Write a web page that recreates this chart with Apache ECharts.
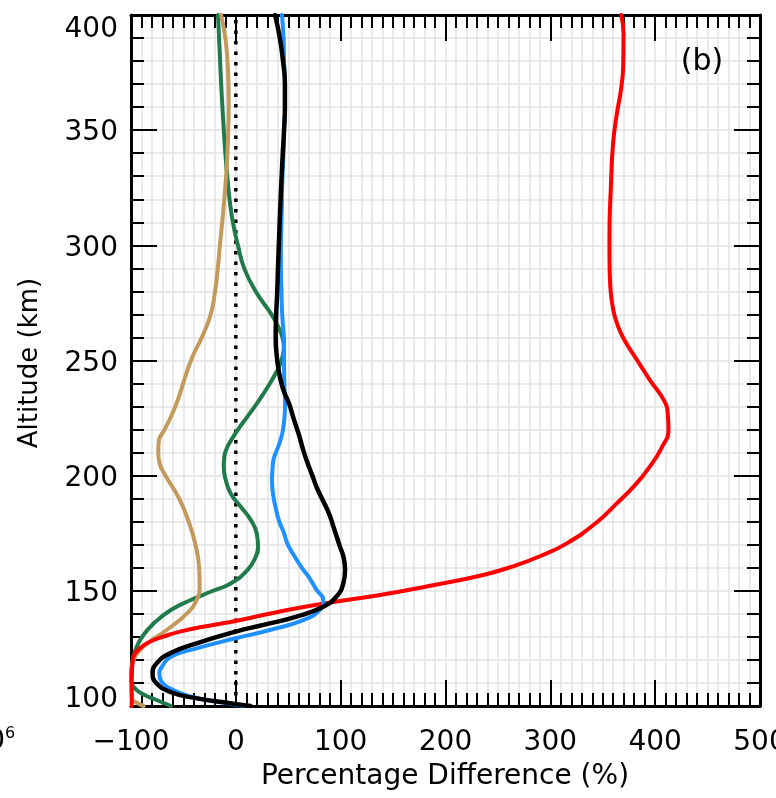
<!DOCTYPE html>
<html>
<head>
<meta charset="utf-8">
<script src="https://cdn.jsdelivr.net/npm/echarts@6/dist/echarts.min.js"></script>
<style>
html,body{margin:0;padding:0;background:#fff;}
#c{width:776px;height:798px;}
</style>
</head>
<body>
<div id="c"></div>
<script>
// ---- data (altitude in km, value in %) ----
const xTicks = [-100, 0, 100, 200, 300, 400, 500];
const yTicks = [100, 150, 200, 250, 300, 350, 400];

const redAlt = [100, 110, 116, 119, 121.4, 125, 127.9, 130.1, 132.3, 135.2, 137, 139.5, 142.4, 144.9, 148.2, 152, 156.9, 161.2, 165, 170.6, 180, 188, 196, 204, 212, 220, 227, 233, 241.5, 250, 259, 265, 272, 282, 295, 305, 325, 344, 357, 367, 378, 392, 400];
const redVal = [-99.3, -99.3, -99, -98.5, -97.8, -91.6, -82, -69.2, -53.3, -21.5, 0.8, 26.3, 58, 89.8, 137.5, 183, 236, 268, 290, 315.7, 345, 363.4, 381, 395, 406, 412.7, 412, 408, 395, 383, 370.5, 364.5, 360, 357.2, 356.4, 356.4, 357.7, 359.8, 363.4, 367.2, 369.5, 369.8, 367.6];

const blackAlt = [100, 101.2, 103.3, 106.2, 110.6, 114.2, 118.5, 122.9, 127.2, 132.3, 135.2, 138.8, 143.1, 147.5, 153.2, 159, 164.9, 169.2, 178, 184, 194, 200, 206, 211, 218, 225, 231, 237, 242, 246, 250, 260, 270, 280, 290, 300, 310, 320, 330, 340, 350, 360, 370, 380, 390, 400];
const blackVal = [14, -5.5, -37, -63, -77, -79.4, -75.6, -62.8, -37.4, 0, 26.3, 58, 83.4, 96, 102.5, 104.2, 102.6, 99.3, 93, 88.5, 78, 73, 68, 64.4, 60, 55, 51, 45.5, 42.5, 40.8, 39.5, 38, 38.5, 39.5, 40.2, 41, 41.8, 42.7, 43.7, 44.8, 46, 46.8, 46.8, 45, 42, 37.4];

const blueAlt = [100, 102, 104, 106.9, 110.6, 114.2, 117.1, 121.4, 125, 129.4, 133, 137.3, 141.7, 146, 150.4, 155, 160, 165, 170.6, 175, 180, 185, 192, 198, 203, 207, 211, 216, 221, 226, 231, 240, 250, 258, 265, 272, 280, 290, 300, 310, 320, 330, 340, 350, 360, 370, 380, 390, 400];
const blueVal = [8, -20, -42, -59.7, -71, -73, -70.5, -62, -37.4, 0, 32.5, 64.3, 80.2, 83.4, 77, 71, 63, 56, 49, 46, 41.5, 38.5, 35.5, 34.5, 35, 36, 39, 43, 45.3, 46.5, 47, 46.3, 46, 46, 45, 44, 43.5, 43, 43, 43.5, 44, 44.5, 45.5, 46, 47, 47, 46, 45.5, 44];

const greenAlt = [100, 102.5, 105, 108, 112, 114.2, 118.5, 124.3, 130.1, 136, 141.7, 146, 149.6, 153.2, 159, 164.8, 169.2, 175, 180.8, 186.5, 192.3, 198.1, 203.9, 208.2, 212, 215, 220, 225, 230, 235, 240, 243.6, 247, 251.6, 256, 260, 264.6, 270, 280, 290, 300, 310, 320, 330, 340, 350, 360, 370, 380, 390, 400];
const greenVal = [-62, -75, -88, -97, -100, -99.9, -98.9, -95.7, -89.3, -78, -62, -43, -24, -4.9, 11, 19, 21.2, 19.9, 14.2, 4.7, -4.9, -9.6, -11.5, -11, -8.5, -5, 2, 10, 18, 25.5, 32.5, 37, 41, 44.5, 45.8, 44.5, 40.5, 34, 19, 8, 2, -2.8, -6, -8.2, -10, -11.5, -12.8, -14, -15, -16, -17];

const tanAlt = [100, 101.5, 103, 108, 115, 120, 124, 128, 133, 140, 146, 152, 160, 170, 180, 190, 200, 205, 210, 215, 220, 227, 234, 244, 252, 260, 270, 280, 290, 300, 310, 320, 330, 340, 350, 360, 370, 380, 390, 400];
const tanVal = [-88, -95, -99, -99.7, -99.3, -97.5, -92, -82, -66, -47, -37.5, -34.5, -35, -38.5, -45, -54, -67, -72.5, -74, -73.5, -68, -60.5, -54.5, -47.5, -41, -32.5, -24, -19.8, -17.2, -15.2, -13, -11, -9.3, -8, -7.2, -6.8, -7, -8, -10, -14];

const zeroAlt = [100, 400];
const zeroVal = [0, 0];

const xTitle = 'Percentage Difference (%)';
const yTitle = 'Altitude (km)';
const panelLabel = '(b)';

// ---- chart ----
const FONT = 'DejaVu Sans';
const pts = (alt, val) => alt.map((a, i) => [val[i], a]);
const chart = echarts.init(document.getElementById('c'), null, {renderer: 'canvas'});

const tickStyle = {color: '#000', width: 2};
const gridColor = '#e3e3e3';

function mkX(primary) {
  return {
    type: 'value', min: xTicks[0], max: xTicks[xTicks.length - 1], interval: 100,
    position: primary ? 'bottom' : 'top',
    axisLine: {show: true, onZero: false, lineStyle: {color: '#000', width: 3}},
    axisTick: {show: true, inside: true, length: 26, lineStyle: tickStyle},
    minorTick: {show: true, splitNumber: 10, length: 13, lineStyle: tickStyle},
    splitLine: {show: primary, lineStyle: {color: gridColor, width: 1.5}},
    minorSplitLine: {show: primary, lineStyle: {color: gridColor, width: 1.5}},
    axisLabel: {
      show: primary, color: '#000', fontFamily: FONT, fontSize: 28, margin: 23,
      showMinLabel: true, showMaxLabel: true,
      formatter: v => (v < 0 ? '\u2212' + Math.abs(v) : String(v))
    }
  };
}
function mkY(primary) {
  return {
    type: 'value', min: yTicks[0], max: yTicks[yTicks.length - 1], interval: 50,
    position: primary ? 'left' : 'right',
    axisLine: {show: true, onZero: false, lineStyle: {color: '#000', width: 3}},
    axisTick: {show: true, inside: true, length: 26, lineStyle: tickStyle},
    minorTick: {show: true, splitNumber: 5, length: 13, lineStyle: tickStyle},
    splitLine: {show: primary, lineStyle: {color: gridColor, width: 1.5}},
    minorSplitLine: {show: primary, lineStyle: {color: gridColor, width: 1.5}},
    axisLabel: {
      show: primary, color: '#000', fontFamily: FONT, fontSize: 28, margin: 13,
      showMinLabel: true, showMaxLabel: true,
      formatter: v => v === 400 ? '{t|' + v + '}' : (v === 100 ? '{b|' + v + '}' : '{n|' + v + '}'),
      rich: {
        t: {fontFamily: FONT, fontSize: 28, color: '#000', padding: [30, 0, 0, 0]},
        b: {fontFamily: FONT, fontSize: 28, color: '#000', padding: [0, 0, 12, 0]},
        n: {fontFamily: FONT, fontSize: 28, color: '#000', padding: [6, 0, 0, 0]}
      }
    }
  };
}

function line(alt, val, color, width, z) {
  return {
    type: 'line', data: pts(alt, val), xAxisIndex: 0, yAxisIndex: 0,
    showSymbol: false, symbol: 'none', smooth: 0.5, z: z,
    lineStyle: {color: color, width: width, cap: 'round', join: 'round'},
    animation: false
  };
}

chart.setOption({
  animation: false,
  backgroundColor: '#fff',
  grid: {left: 131, right: 16, top: 15, bottom: 92, containLabel: false, outerBoundsMode: 'none'},
  xAxis: [mkX(true), mkX(false)],
  yAxis: [mkY(true), mkY(false)],
  series: [
    {
      type: 'line', data: pts(zeroAlt, zeroVal), showSymbol: false, symbol: 'none', z: 2,
      lineStyle: {color: '#000', width: 3.5, type: [3.5, 7], cap: 'butt'}, animation: false
    },
    line(greenAlt, greenVal, '#217a4c', 4, 3),
    line(tanAlt, tanVal, '#c39a5c', 4, 3),
    line(redAlt, redVal, '#ff0000', 4, 4),
    line(blueAlt, blueVal, '#1e90ff', 4, 4),
    line(blackAlt, blackVal, '#000000', 4.5, 5)
  ],
  graphic: [
    {type: 'text', z: 100, x: 445, y: 777, style: {text: xTitle, font: '28px "DejaVu Sans"', fill: '#000', align: 'center', verticalAlign: 'middle'}},
    {type: 'text', z: 100, x: 30, y: 363, rotation: Math.PI / 2, style: {text: yTitle, font: '26px "DejaVu Sans"', fill: '#000', align: 'center', verticalAlign: 'middle'}},
    {type: 'text', z: 100, x: 702, y: 62, style: {text: panelLabel, font: '30px "DejaVu Sans"', fill: '#000', align: 'center', verticalAlign: 'middle'}},
    {type: 'text', z: 100, x: 5, y: 742, style: {text: '10', font: '28px "DejaVu Sans"', fill: '#000', align: 'right', verticalAlign: 'middle'}},
    {type: 'text', z: 100, x: 5, y: 734, style: {text: '6', font: '16px "DejaVu Sans"', fill: '#000', align: 'left', verticalAlign: 'middle'}}
  ]
});
</script>
</body>
</html>
